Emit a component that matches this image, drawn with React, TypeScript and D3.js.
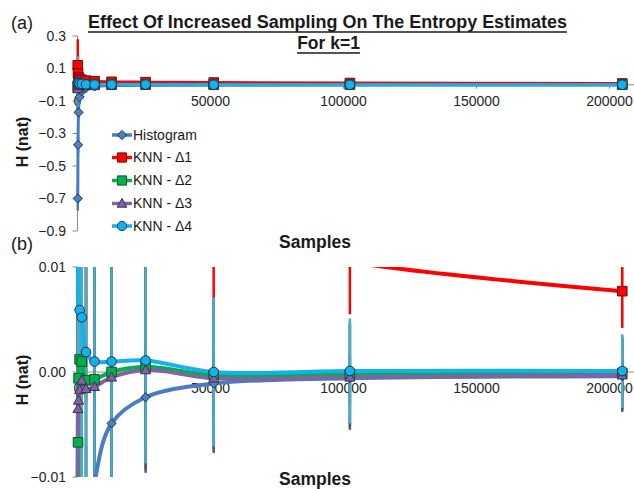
import React from "react";
import * as d3 from "d3";

const samples = [100, 200, 400, 800, 1600, 3200, 6400, 12800, 25600, 51200, 102400, 204800];
const histogram = [-0.7, -0.37, -0.17, -0.075, -0.04, -0.02, -0.0106, -0.0049, -0.0024, -0.0011, -0.0006, -0.0004];
const knnD1 = [0.12, 0.07, 0.045, 0.035, 0.03, 0.025, 0.022, 0.018, 0.016, 0.0135, 0.0105, 0.0077];
const knnD2 = [-0.015, -0.0067, -0.0006, 0.0012, 0.001, -0.0008, -0.0007, 0.0, 0.0005, -0.0003, -0.0002, -0.0001];
const knnD3 = [-0.025, -0.0035, -0.0027, -0.0017, -0.0008, -0.0016, -0.0014, -0.0005, 0.0002, -0.0006, -0.0005, -0.0003];
const knnD4 = [0.015, 0.013, 0.011, 0.0059, 0.0052, 0.0019, 0.001, 0.001, 0.0011, 0.0, 0.0001, 0.0001];
const histError = [0.075, 0.05, 0.036, 0.026, 0.018, 0.013, 0.009, 0.0065, 0.0046, 0.0032, 0.0023, 0.0016];
const knnError = [0.16, 0.11, 0.08, 0.057, 0.04, 0.028, 0.02, 0.014, 0.0098, 0.0071, 0.005, 0.0035];

const seriesNames = ["Histogram", "KNN - \u03941", "KNN - \u03942", "KNN - \u03943", "KNN - \u03944"];
const xTicks = [0, 50000, 100000, 150000, 200000];
const yTicksA = [0.3, 0.1, -0.1, -0.3, -0.5, -0.7, -0.9];
const yTicksB = [0.01, 0.0, -0.01];

const titleLine1 = "Effect Of Increased Sampling On The Entropy Estimates";
const titleLine2 = "For k=1";

type Series = {
  name: string;
  values: number[];
  errors: number[];
  color: string;
  errColor: string;
  fill: string;
  stroke: string;
  marker: "diamond" | "square" | "triangle" | "circle";
};

const series: Series[] = [
  { name: seriesNames[0], values: histogram, errors: histError, color: "#4a7dbf", errColor: "#4a7dbf", fill: "#4f81bd", stroke: "#1f3358", marker: "diamond" },
  { name: seriesNames[1], values: knnD1, errors: knnError, color: "#ff0000", errColor: "#ff0000", fill: "#ff0000", stroke: "#6b0a0a", marker: "square" },
  { name: seriesNames[2], values: knnD2, errors: knnError, color: "#00b050", errColor: "#22a05a", fill: "#00b050", stroke: "#1d4d2a", marker: "square" },
  { name: seriesNames[3], values: knnD3, errors: knnError, color: "#8064a2", errColor: "#604a7b", fill: "#8064a2", stroke: "#3d2c55", marker: "triangle" },
  { name: seriesNames[4], values: knnD4, errors: knnError, color: "#14b1ea", errColor: "#4bacc6", fill: "#14b1ea", stroke: "#1f3358", marker: "circle" },
];

const FONT = "'Liberation Sans', Arial, sans-serif";

function markerPath(kind: string, r: number) {
  switch (kind) {
    case "diamond":
      return `M0,${-r}L${r},0L0,${r}L${-r},0Z`;
    case "square":
      return `M${-r},${-r}H${r}V${r}H${-r}Z`;
    case "triangle":
      return `M0,${-r * 1.1}L${r * 1.05},${r * 0.8}L${-r * 1.05},${r * 0.8}Z`;
    default:
      return d3.symbol(d3.symbolCircle, Math.PI * r * r)() as string;
  }
}

const x = d3.scaleLinear().domain([0, 200000]).range([77.5, 609.5]);

function Panel({
  id,
  y,
  ticks,
  fmt,
  lineW,
  r,
  top,
  bottom,
  tickLabelY,
}: {
  id: string;
  y: d3.ScaleLinear<number, number>;
  ticks: number[];
  fmt: (v: number) => string;
  lineW: number;
  r: number;
  top: number;
  bottom: number;
  tickLabelY: number;
}) {
  const y0 = y(0);
  const line = (vals: number[]) =>
    d3
      .line<number>()
      .x((_, i) => x(samples[i]))
      .y((v) => y(v))
      .curve(d3.curveCatmullRom.alpha(0.5))(vals) as string;
  return (
    <g>
      <defs>
        <clipPath id={`clip-${id}`}>
          <rect x={60} y={top} width={574} height={bottom - top} />
        </clipPath>
      </defs>
      <line x1={x(0)} x2={x(0)} y1={top} y2={bottom} stroke="#8c8c8c" strokeWidth={1} />
      {ticks.map((t) => (
        <g key={t}>
          <line x1={x(0) - 5} x2={x(0)} y1={y(t)} y2={y(t)} stroke="#8c8c8c" />
          <text x={66} y={y(t)} dy="0.35em" textAnchor="end" fontSize={14} fontFamily={FONT} fill="#262626">
            {fmt(t)}
          </text>
        </g>
      ))}
      <line x1={x(0)} x2={634} y1={y0} y2={y0} stroke="#8c8c8c" strokeWidth={1} />
      {xTicks.map((t) => (
        <g key={t}>
          <line x1={x(t)} x2={x(t)} y1={y0} y2={y0 + 4} stroke="#8c8c8c" />
          <text x={x(t)} y={tickLabelY} dy="0.35em" textAnchor="middle" fontSize={14} fontFamily={FONT} fill="#262626">
            {d3.format("d")(t)}
          </text>
        </g>
      ))}
      <g clipPath={`url(#clip-${id})`}>
        {series.map((s) => (
          <g key={s.name + "e"}>
            {s.values.map((v, i) => (
              <line
                key={i}
                x1={x(samples[i])}
                x2={x(samples[i])}
                y1={y(v + s.errors[i])}
                y2={y(v - s.errors[i])}
                stroke={s.errColor}
                strokeWidth={2.5}
              />
            ))}
          </g>
        ))}
        {series.map((s) => (
          <path key={s.name + "l"} d={line(s.values)} fill="none" stroke={s.color} strokeWidth={lineW} strokeLinejoin="round" />
        ))}
        {series.map((s) => (
          <g key={s.name + "m"}>
            {s.values.map((v, i) => (
              <path
                key={i}
                d={markerPath(s.marker, s.marker === "diamond" ? r * 0.95 : r)}
                transform={`translate(${x(samples[i])},${y(v)})`}
                fill={s.fill}
                stroke={s.stroke}
                strokeWidth={1}
              />
            ))}
          </g>
        ))}
      </g>
    </g>
  );
}

export default function App() {
  const yA = d3.scaleLinear().domain([-0.9, 0.3]).range([231, 36]);
  const yB = d3.scaleLinear().domain([-0.01, 0.01]).range([477, 267]);
  const legendY = [135, 157.5, 180.5, 203.5, 226];
  return (
    <svg width={634} height={489} style={{ position: "absolute", left: 0, top: 0, background: "#fff" }}>
      <rect width={634} height={489} fill="#fff" />
      <text x={327.5} y={28} textAnchor="middle" fontSize={18} fontWeight="bold" fontFamily={FONT} fill="#1a1a1a" textLength={479} lengthAdjust="spacingAndGlyphs">
        {titleLine1}
      </text>
      <line x1={88} x2={567} y1={32} y2={32} stroke="#1a1a1a" strokeWidth={1.5} />
      <text x={328.5} y={49} textAnchor="middle" fontSize={17.5} fontWeight="bold" fontFamily={FONT} fill="#1a1a1a">
        {titleLine2}
      </text>
      <line x1={297} x2={360} y1={53} y2={53} stroke="#1a1a1a" strokeWidth={1.5} />
      <text x={11} y={29} fontSize={18} fontFamily={FONT} fill="#1a1a1a">(a)</text>
      <text x={11} y={250} fontSize={18} fontFamily={FONT} fill="#1a1a1a">(b)</text>

      <Panel id="a" y={yA} ticks={yTicksA} fmt={d3.format(".1f")} lineW={3} r={4.8} top={36} bottom={231} tickLabelY={101} />
      <Panel id="b" y={yB} ticks={yTicksB} fmt={d3.format(".2f")} lineW={4} r={4.8} top={267} bottom={477} tickLabelY={388} />

      <text x={315} y={242} dy="0.35em" textAnchor="middle" fontSize={17.5} fontWeight="bold" fontFamily={FONT} fill="#1a1a1a">Samples</text>
      <text x={315} y={479} dy="0.35em" textAnchor="middle" fontSize={17.5} fontWeight="bold" fontFamily={FONT} fill="#1a1a1a">Samples</text>
      <text transform="translate(22,142) rotate(-90)" dy="0.35em" textAnchor="middle" fontSize={16} fontWeight="bold" fontFamily={FONT} fill="#1a1a1a">H (nat)</text>
      <text transform="translate(22,380) rotate(-90)" dy="0.35em" textAnchor="middle" fontSize={16} fontWeight="bold" fontFamily={FONT} fill="#1a1a1a">H (nat)</text>

      {series.map((s, i) => (
        <g key={s.name} transform={`translate(0,${legendY[i]})`}>
          <line x1={112} x2={132} y1={0} y2={0} stroke={s.color} strokeWidth={3.5} />
          <path d={markerPath(s.marker, 4.6)} transform="translate(122,0)" fill={s.fill} stroke={s.stroke} strokeWidth={1} />
          <text x={133} y={0} dy="0.35em" fontSize={14} fontFamily={FONT} fill="#1a1a1a">{s.name}</text>
        </g>
      ))}
    </svg>
  );
}
